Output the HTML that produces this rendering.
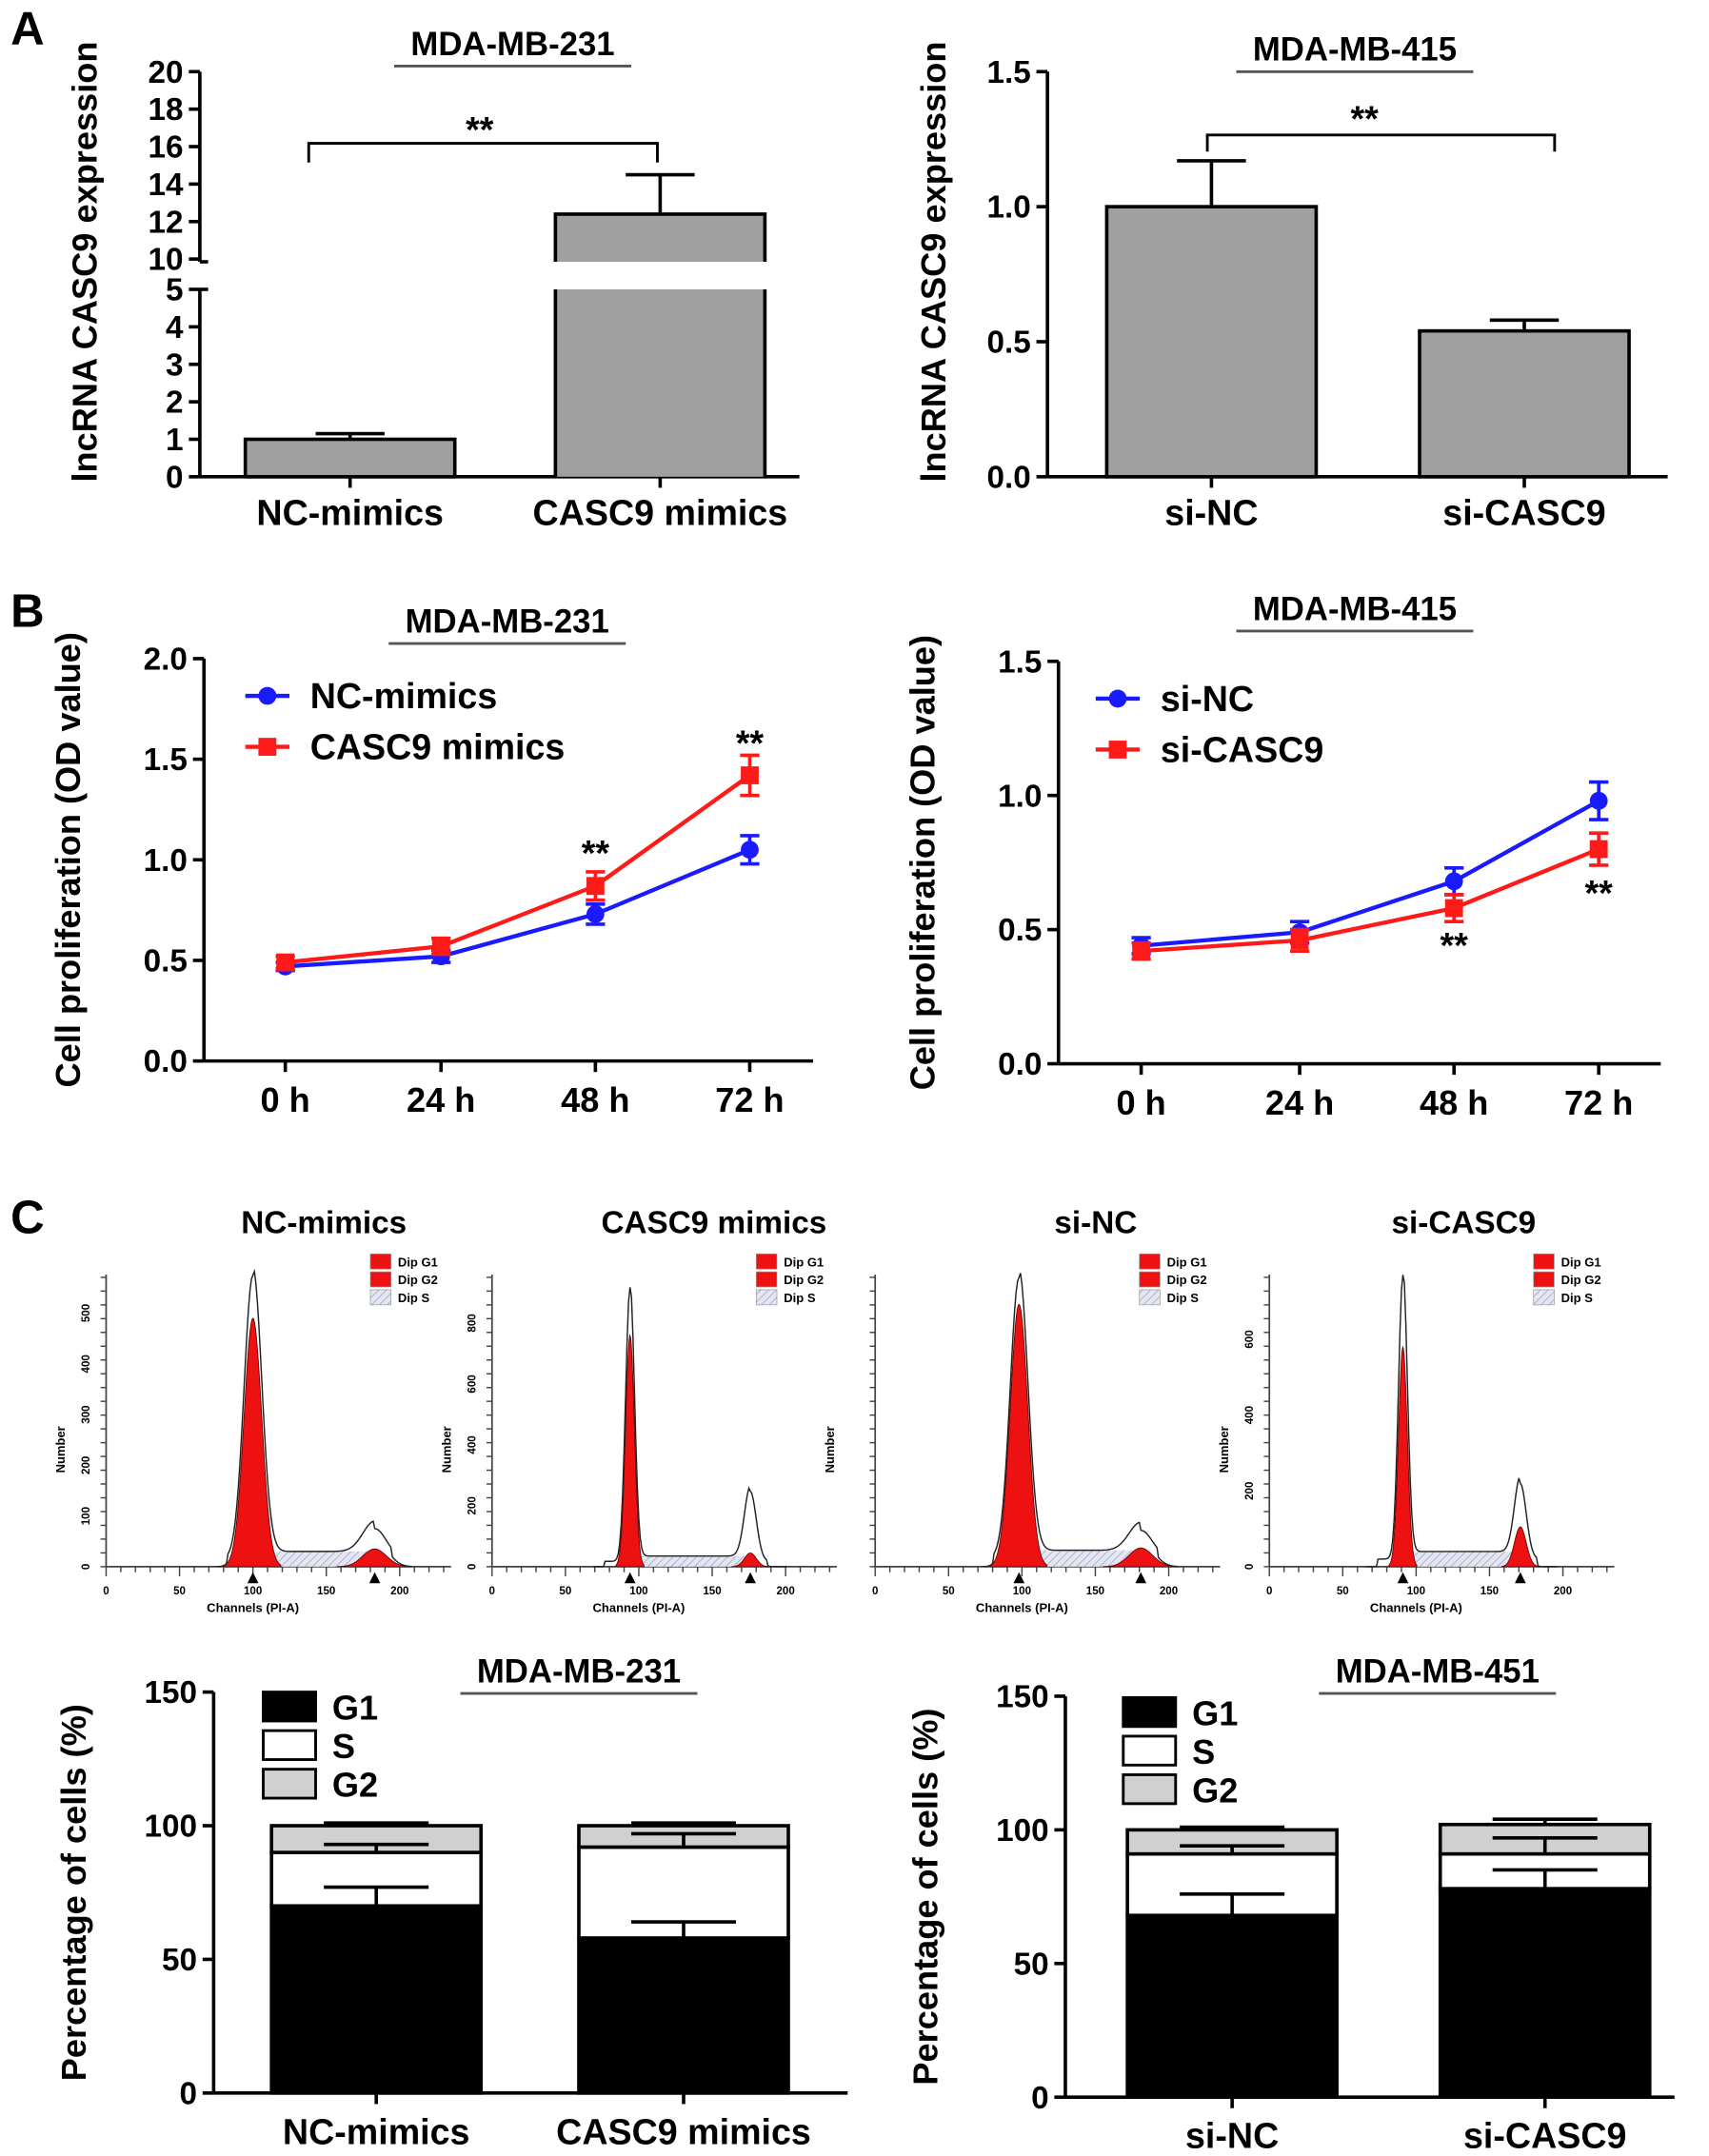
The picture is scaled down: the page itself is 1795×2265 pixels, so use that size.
<!DOCTYPE html>
<html><head><meta charset="utf-8"><style>
html,body{margin:0;padding:0;background:#fff}
svg{display:block}
text{font-family:"Liberation Sans",Arial,sans-serif;font-weight:bold;fill:#000}
</style></head><body>
<svg id="fig" width="1795" height="2265" viewBox="0 0 1240 1564.7" xmlns="http://www.w3.org/2000/svg">
<defs><pattern id="hatch" width="4" height="4" patternUnits="userSpaceOnUse" patternTransform="rotate(45)"><rect width="4" height="4" fill="#e4e6f2"/><line x1="0" y1="0" x2="0" y2="4" stroke="#9aa0c0" stroke-width="1"/></pattern></defs>
</svg>
<script>
// ---- Panel A data ----
const aLeftCats = ["NC-mimics","CASC9 mimics"];
const aLeftVals = [1.0, 12.4];
const aLeftErr = [0.15, 2.1];
const aRightCats = ["si-NC","si-CASC9"];
const aRightVals = [1.0, 0.54];
const aRightErr = [0.17, 0.04];
const aLeftLowTicks = [0,1,2,3,4,5];
const aLeftHighTicks = [10,12,14,16,18,20];
const aRightTicks = [0.0,0.5,1.0,1.5];
// ---- Panel B data ----
const timeLabels = ["0 h","24 h","48 h","72 h"];
const bLeftNC = [0.47,0.52,0.73,1.05];
const bLeftNCErr = [0.02,0.03,0.05,0.07];
const bLeftCASC = [0.49,0.57,0.87,1.42];
const bLeftCASCErr = [0.03,0.04,0.07,0.10];
const bRightNC = [0.44,0.49,0.68,0.98];
const bRightNCErr = [0.03,0.04,0.05,0.07];
const bRightCASC = [0.42,0.46,0.58,0.80];
const bRightCASCErr = [0.03,0.04,0.05,0.06];
const bLeftTicks = [0.0,0.5,1.0,1.5,2.0];
const bRightTicks = [0.0,0.5,1.0,1.5];
// ---- Panel C histograms (channel, counts) ----
const histTitles = ["NC-mimics","CASC9 mimics","si-NC","si-CASC9"];
const histG1Center = [100,94,98,91];
const histG1Sd = [6,3,6,3];
const histG1Peak = [560,900,600,750];
const histG1Red = [490,760,560,580];
const histG2Center = [183,176,181,171];
const histG2Sd = [8,4,8,4];
const histG2Peak = [60,230,60,200];
const histG2Red = [35,45,40,105];
const histSLevel = [30,35,35,40];
const histYTicks = [[0,100,200,300,400,500],[0,200,400,600,800],[],[0,200,400,600]];
const histXTicks = [0,50,100,150,200];
// ---- Panel C stacked bars ----
const cLeftCats = ["NC-mimics","CASC9 mimics"];
const cLeftG1 = [70,58];
const cLeftS = [20,34];
const cLeftG2 = [10,8];
const cLeftErrG1 = [7,6];
const cLeftErrS = [3,5];
const cLeftErrG2 = [1,1];
const cRightCats = ["si-NC","si-CASC9"];
const cRightG1 = [68,78];
const cRightS = [23,13];
const cRightG2 = [9,11];
const cRightErrG1 = [8,7];
const cRightErrS = [3,6];
const cRightErrG2 = [1,2];
const cTicks = [0,50,100,150];

const svg = document.getElementById('fig');
const NS = "http://www.w3.org/2000/svg";
function mk(tag, attrs, parent){
  const e = document.createElementNS(NS, tag);
  for (const k in attrs) e.setAttribute(k, attrs[k]);
  (parent||svg).appendChild(e);
  return e;
}
function txt(x,y,s,size,anchor,parent,extra){
  const t = mk('text',Object.assign({x:x,y:y,'font-size':size,'text-anchor':anchor||'middle'},extra||{}),parent);
  t.textContent = s;
  return t;
}
function line(x1,y1,x2,y2,w,parent,col){
  return mk('line',{x1:x1,y1:y1,x2:x2,y2:y2,stroke:col||'#000','stroke-width':w||2.5},parent);
}
function group(name){
  const g = mk('g',{});
  
  
  return g;
}
function title(x,y,s,w,parent){
  const t = txt(x,y,s,24,'middle',parent);
  
  
  line(x-w/2,y+8,x+w/2,y+8,2,parent,'#555');
}
function ylab(x,y,s,parent){
  const t = txt(0,0,s,25,'middle',parent,{transform:`translate(${x},${y}) rotate(-90)`});
  
  
}

[["A",20,32],["B",20,455],["C",20,895]].forEach(p=>{
  const t = txt(p[1],p[2],p[0],34,'middle');
  
  
});

// ===== A left (broken axis) =====
(function(){
  const g = group('chart-a-left');
  const ax = 145, y0 = 346;
  const yl = v => y0 - v*27.2;
  const yh = v => 188 - (v-10)*13.6;
  const yv = v => v<=5 ? yl(v) : yh(Math.max(v,10));
  line(ax,210,ax,y0,2.5,g); line(ax,52,ax,190,2.5,g);
  aLeftLowTicks.forEach(v=>{line(ax-8,yl(v),ax,yl(v),2.5,g);txt(ax-12,yl(v)+8,v,23,'end',g);});
  aLeftHighTicks.forEach(v=>{line(ax-8,yh(v),ax,yh(v),2.5,g);txt(ax-12,yh(v)+8,v,23,'end',g);});
  line(ax,190,ax+6,190,2.5,g); line(ax,210,ax+6,210,2.5,g);
  line(ax,y0,580,y0,2.5,g);
  const xs=[178,403], bw=152;
  aLeftVals.forEach((v,i)=>{
    const cx = xs[i]+bw/2;
    line(cx,y0,cx,y0+8,2.5,g);
    const top = yv(v), et = yv(v+aLeftErr[i]);
    line(cx,top,cx,et,2.5,g); line(cx-25,et,cx+25,et,2.5,g);
    const nm = 'bar-'+aLeftCats[i].toLowerCase().replace(/\s/g,'-');
    if (v>5){
      const r1=mk('rect',{x:xs[i],y:top,width:bw,height:190-top,fill:'#a0a0a0'},g);
      
      
      mk('path',{d:`M${xs[i]},190 V${top} H${xs[i]+bw} V190`,fill:'none',stroke:'#000','stroke-width':2.5},g);
      const r2=mk('rect',{x:xs[i],y:210,width:bw,height:y0-210,fill:'#a0a0a0'},g);
      
      
      mk('path',{d:`M${xs[i]},210 V${y0} M${xs[i]+bw},210 V${y0}`,fill:'none',stroke:'#000','stroke-width':2.5},g);
    } else {
      const r=mk('rect',{x:xs[i],y:top,width:bw,height:y0-top,fill:'#a0a0a0',stroke:'#000','stroke-width':2.5},g);
      
      
    }
    txt(cx,381,aLeftCats[i],26,'middle',g);
  });
  mk('path',{d:'M224,118 V104 H477 V118',fill:'none',stroke:'#000','stroke-width':2},g);
  txt(348,103,'**',26,'middle',g);
  title(372,40,'MDA-MB-231',172,g);
  ylab(70,190,'lncRNA CASC9 expression',g);
})();

// ===== A right =====
(function(){
  const g = group('chart-a-right');
  const ax=760, y0=346, y=v=>y0-v*196;
  line(ax,52,ax,y0,2.5,g); line(ax,y0,1210,y0,2.5,g);
  aRightTicks.forEach(v=>{line(ax-8,y(v),ax,y(v),2.5,g);txt(ax-12,y(v)+8,v.toFixed(1),23,'end',g);});
  const xs=[803,1030], bw=152;
  aRightVals.forEach((v,i)=>{
    const cx=xs[i]+bw/2;
    line(cx,y0,cx,y0+8,2.5,g);
    const et=y(v+aRightErr[i]);
    line(cx,y(v),cx,et,2.5,g); line(cx-25,et,cx+25,et,2.5,g);
    const r=mk('rect',{x:xs[i],y:y(v),width:bw,height:y0-y(v),fill:'#a0a0a0',stroke:'#000','stroke-width':2.5},g);
    
    
    txt(cx,381,aRightCats[i],26,'middle',g);
  });
  mk('path',{d:'M876,110 V98 H1128 V110',fill:'none',stroke:'#000','stroke-width':2},g);
  txt(990,95,'**',26,'middle',g);
  title(983,44,'MDA-MB-415',172,g);
  ylab(686,190,'lncRNA CASC9 expression',g);
})();

// ===== B line charts =====
function lineChart(name,ax,y0,pxPerUnit,xend,xs,ticks,s1,e1,s2,e2,leg,titleX,titleY,stars){
  const g = group(name);
  const y=v=>y0-v*pxPerUnit;
  const top=y(ticks[ticks.length-1]);
  line(ax,top,ax,y0,2.5,g); line(ax,y0,xend,y0,2.5,g);
  ticks.forEach(v=>{line(ax-8,y(v),ax,y(v),2.5,g);txt(ax-12,y(v)+8,v.toFixed(1),23,'end',g);});
  xs.forEach((x,i)=>{line(x,y0,x,y0+8,2.5,g);txt(x,y0+37,timeLabels[i],25,'middle',g);});
  [[s1,e1,'#1a1aff','circle',leg[0]],[s2,e2,'#ff1a1a','square',leg[1]]].forEach((ser,si)=>{
    const [vals,errs,col,shape,lab]=ser;
    const sg=mk('g',{},g);
    
    
    mk('polyline',{points:vals.map((v,i)=>xs[i]+','+y(v)).join(' '),fill:'none',stroke:col,'stroke-width':3},sg);
    vals.forEach((v,i)=>{
      line(xs[i],y(v-errs[i]),xs[i],y(v+errs[i]),2.5,sg,col);
      line(xs[i]-7,y(v-errs[i]),xs[i]+7,y(v-errs[i]),2.5,sg,col);
      line(xs[i]-7,y(v+errs[i]),xs[i]+7,y(v+errs[i]),2.5,sg,col);
      let m;
      if(shape==='circle') m=mk('circle',{cx:xs[i],cy:y(v),r:6.5,fill:col},sg);
      else m=mk('rect',{x:xs[i]-6.5,y:y(v)-6.5,width:13,height:13,fill:col},sg);
      
      
    });
    const ly=leg[2]+si*37, lx=leg[3];
    line(lx,ly,lx+32,ly,3,g,col);
    if(shape==='circle') mk('circle',{cx:lx+16,cy:ly,r:6.5,fill:col},g);
    else mk('rect',{x:lx+9.5,y:ly-6.5,width:13,height:13,fill:col},g);
    const lt=txt(lx+47,ly+9,lab,26,'start',g);
    
    
  });
  stars.forEach(s=>txt(xs[s[0]],s[1],'**',26,'middle',g));
  title(titleX,titleY,leg[4],172,g);
  ylab(ax-90,(top+y0)/2,'Cell proliferation (OD value)',g);
}
lineChart('chart-b-left',148,770,146,590,[207,320,432,544],bLeftTicks,bLeftNC,bLeftNCErr,bLeftCASC,bLeftCASCErr,['NC-mimics','CASC9 mimics',505,178,'MDA-MB-231'],368,459,[[2,628],[3,548]]);
lineChart('chart-b-right',768,772,194.7,1205,[828,943,1055,1160],bRightTicks,bRightNC,bRightNCErr,bRightCASC,bRightCASCErr,['si-NC','si-CASC9',507,795,'MDA-MB-415'],983,450,[[2,695],[3,657]]);

// ===== C histograms =====
const histX0=[77,357,635,921], histTitleX=[235,518,795,1062];
const histCountPx=[0.368,0.221,0.34,0.275];
function gauss(x,c,s){return Math.exp(-0.5*((x-c)/s)**2);}
histTitles.forEach((tl,p)=>{
  const g=group('histogram-'+tl.toLowerCase().replace(/\s/g,'-'));
  const x0=histX0[p], base=1137, sx=1.065, cy=histCountPx[p];
  const X=c=>x0+c*sx, Y=n=>base-n*cy;
  txt(histTitleX[p],895,tl,23,'middle',g);
  line(x0,925,x0,base,1.2,g,'#444'); line(x0,base,X(235),base,1.2,g,'#444');
  for(let c=0;c<=230;c+=10) line(X(c),base,X(c),base+(c%50===0?7:4),1,g,'#444');
  histXTicks.forEach(c=>txt(X(c),base+20,c,8,'middle',g,{fill:'#333'}));
  for(let k=0;k<22;k++) line(x0-4,base-k*10,x0,base-k*10,1,g,'#444');
  histYTicks[p].forEach(v=>txt(0,0,v,8,'middle',g,{transform:`translate(${x0-12},${Y(v)}) rotate(-90)`,fill:'#333'}));
  txt(0,0,'Number',9,'middle',g,{transform:`translate(${x0-30},${base-85}) rotate(-90)`});
  txt(X(100),base+33,'Channels (PI-A)',9,'middle',g,{fill:'#333'});
  const c1=histG1Center[p], c2=histG2Center[p];
  let sp=`M${X(c1)},${base}`;
  for(let c=c1;c<=c2;c+=2) sp+=` L${X(c)},${Y(histSLevel[p])}`;
  sp+=` L${X(c2)},${base} Z`;
  mk('path',{d:sp,fill:'url(#hatch)',stroke:'none'},g);
  [[c1,histG1Sd[p],histG1Red[p]],[c2,histG2Sd[p],histG2Red[p]]].forEach((pk,k)=>{
    let d=`M${X(pk[0]-3.2*pk[1])},${base}`;
    for(let c=pk[0]-3.2*pk[1];c<=pk[0]+3.2*pk[1];c+=0.5) d+=` L${X(c)},${Y(pk[2]*gauss(c,pk[0],pk[1]))}`;
    d+=` L${X(pk[0]+3.2*pk[1])},${base} Z`;
    const r=mk('path',{d:d,fill:'#ee1111',stroke:'#600','stroke-width':0.6},g);
    
    
    mk('polygon',{points:`${X(pk[0])},${base+4} ${X(pk[0])-4},${base+12} ${X(pk[0])+4},${base+12}`,fill:'#000'},g);
  });
  let od='';
  for(let c=c1-25;c<=c2+25;c+=1){
    let n=histG1Peak[p]*gauss(c,c1,histG1Sd[p])+histG2Peak[p]*gauss(c,c2,histG2Sd[p]);
    if(c>c1-18 && c<c2+12) n+=histSLevel[p]*(c>c1&&c<c2?1:0.5);
    od+=(od?' L':'M')+X(c)+','+Y(n);
  }
  mk('path',{d:od,fill:'none',stroke:'#222','stroke-width':1},g);
  const lx=X(180), ly=910;
  [['Dip G1','#ee1111'],['Dip G2','#ee1111'],['Dip S','url(#hatch)']].forEach((e,k)=>{
    mk('rect',{x:lx,y:ly+k*13,width:15,height:11,fill:e[1],stroke:'#999','stroke-width':0.5},g);
    const t=txt(lx+20,ly+k*13+9,e[0],9,'start',g,{fill:'#2a2aff'});
    
    
  });
});

// ===== C stacked bars =====
function stacked(name,ax,y0,xend,xs,bw,cats,G1,S,G2,E1,ES,E2,ttl,tx,ty,lx,ly){
  const g=group(name);
  const y=v=>y0-v*1.94;
  line(ax,y(150),ax,y0,2.5,g); line(ax,y0,xend,y0,2.5,g);
  cTicks.forEach(v=>{line(ax-8,y(v),ax,y(v),2.5,g);txt(ax-12,y(v)+8,v,23,'end',g);});
  cats.forEach((c,i)=>{
    const cx=xs[i]+bw/2;
    line(cx,y0,cx,y0+8,2.5,g);
    const segs=[[0,G1[i],'#000',E1[i],'g1'],[G1[i],G1[i]+S[i],'#fff',ES[i],'s'],[G1[i]+S[i],G1[i]+S[i]+G2[i],'#d0d0d0',E2[i],'g2']];
    segs.forEach(s=>{
      const r=mk('rect',{x:xs[i],y:y(s[1]),width:bw,height:y(s[0])-y(s[1]),fill:s[2],stroke:'#000','stroke-width':2.5},g);
      
      
    });
    segs.forEach(s=>{
      const et=y(s[1]+s[3]);
      line(cx,y(s[1]),cx,et,2.5,g);
      line(cx-38,et,cx+38,et,2.5,g);
    });
    txt(cx,y0+37,c,26,'middle',g);
  });
  [['G1','#000'],['S','#fff'],['G2','#d0d0d0']].forEach((e,k)=>{
    mk('rect',{x:lx,y:ly+k*28,width:38,height:21,fill:e[1],stroke:'#000','stroke-width':2},g);
    const t=txt(lx+50,ly+k*28+20,e[0],25,'start',g);
    
    
  });
  title(tx,ty,ttl,172,g);
  ylab(ax-93,(y(150)+y0)/2,'Percentage of cells (%)',g);
}
stacked('chart-c-left',155,1519,615,[197,420],152,cLeftCats,cLeftG1,cLeftS,cLeftG2,cLeftErrG1,cLeftErrS,cLeftErrG2,'MDA-MB-231',420,1221,191,1228);
stacked('chart-c-right',773,1522,1215,[818,1045],152,cRightCats,cRightG1,cRightS,cRightG2,cRightErrG1,cRightErrS,cRightErrG2,'MDA-MB-451',1043,1221,815,1232);
</script>
</body></html>
